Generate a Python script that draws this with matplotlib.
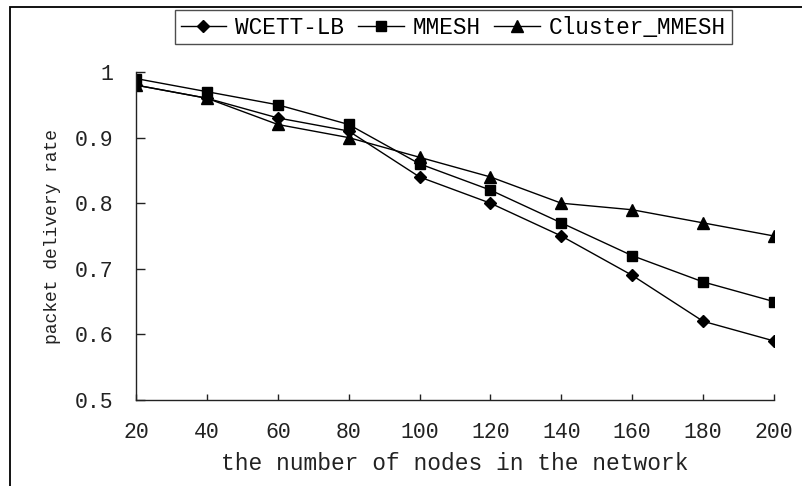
import matplotlib
matplotlib.use("Agg")
import matplotlib.pyplot as plt
from matplotlib.patches import Rectangle

nodes = [20, 40, 60, 80, 100, 120, 140, 160, 180, 200]
wcett_lb = [0.98, 0.96, 0.93, 0.91, 0.84, 0.80, 0.75, 0.69, 0.62, 0.59]
mmesh = [0.99, 0.97, 0.95, 0.92, 0.86, 0.82, 0.77, 0.72, 0.68, 0.65]
cluster_mmesh = [0.98, 0.96, 0.92, 0.90, 0.87, 0.84, 0.80, 0.79, 0.77, 0.75]
series_names = ["WCETT-LB", "MMESH", "Cluster_MMESH"]
y_ticks = [0.5, 0.6, 0.7, 0.8, 0.9, 1.0]
y_ticklabels = ["0.5", "0.6", "0.7", "0.8", "0.9", "1"]

plt.rcParams['font.family'] = ['Liberation Mono', 'DejaVu Sans Mono']

W, H = 803, 486
fig = plt.figure(figsize=(W / 100, H / 100), dpi=100)
ax = fig.add_axes([136 / W, 1 - 400 / H, (774 - 136) / W, (400 - 72) / H])

ax.plot(nodes, wcett_lb, color='black', lw=1.0, marker='D', ms=6, label=series_names[0])
ax.plot(nodes, mmesh, color='black', lw=1.0, marker='s', ms=6.5, label=series_names[1])
ax.plot(nodes, cluster_mmesh, color='black', lw=1.0, marker='^', ms=8, label=series_names[2])

ax.set_xlim(20, 200)
ax.set_ylim(0.5, 1.0)
ax.set_xticks(nodes)
ax.set_xticklabels([str(n) for n in nodes], fontsize=15.5)
ax.set_yticks(y_ticks)
ax.set_yticklabels(y_ticklabels, fontsize=15.5)
ax.tick_params(axis='y', direction='in', length=6.5, width=1, pad=16, colors='#222222')
ax.tick_params(axis='x', direction='in', length=4.5, width=1, pad=16, colors='#222222')
for s in ['top', 'right']:
    ax.spines[s].set_visible(False)
for s in ['left', 'bottom']:
    ax.spines[s].set_color('#222222')
    ax.spines[s].set_linewidth(1)

ax.set_xlabel("the number of nodes in the network", fontsize=16.5, color='#222222')
ax.xaxis.set_label_coords(0.5, -(452 - 400) / 328)
ax.set_ylabel("packet delivery rate", fontsize=13, color='#222222')
ax.yaxis.set_label_coords(-(136 - 61) / 638, 0.5)

leg = fig.legend(loc='upper center', bbox_to_anchor=(453.5 / W, 1 - 10 / H), ncol=3,
                 fontsize=16.4, frameon=True, fancybox=False, handlelength=2.0,
                 handletextpad=0.4, columnspacing=0.6, borderpad=0.25,
                 borderaxespad=0)
leg.get_frame().set_edgecolor('#222222')
leg.get_frame().set_linewidth(1)

fig.patches.append(Rectangle((10 / W, -0.2), 1.5, 1 - 7 / H + 0.2, transform=fig.transFigure,
                             fill=False, edgecolor='black', lw=1.3))

fig.savefig("out.png", dpi=100)
